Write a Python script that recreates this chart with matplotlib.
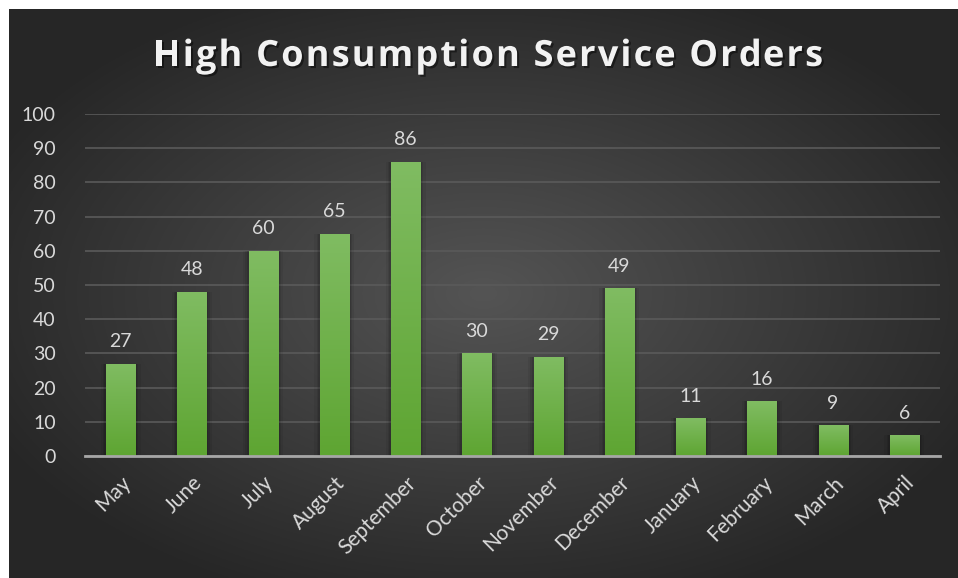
import numpy as np
import matplotlib
matplotlib.use("Agg")
import matplotlib.pyplot as plt
import matplotlib.patheffects as pe
from matplotlib.font_manager import FontProperties

months = ["May", "June", "July", "August", "September", "October",
          "November", "December", "January", "February", "March", "April"]
orders = [27, 48, 60, 65, 86, 30, 29, 49, 11, 16, 9, 6]
yticks = [0, 10, 20, 30, 40, 50, 60, 70, 80, 90, 100]
title = "High Consumption Service Orders"

plt.rcParams['font.family'] = ['Lato', 'DejaVu Sans']

W, H = 958, 578
fig = plt.figure(figsize=(W / 100, H / 100), dpi=100)
fig.patch.set_facecolor("white")

# background with radial gradient
bg = fig.add_axes([9 / W, 0, 1 - 9 / W, 1 - 9 / H])
bg.set_axis_off()
yy, xx = np.mgrid[0:1:300j, 0:1:500j]
r = np.sqrt(((xx - 0.5) / 0.75) ** 2 + ((yy - 0.5) / 0.75) ** 2)
val = np.clip(0.33 - 0.22 * r / 0.94, 0.15, 0.33)
bg.imshow(np.dstack([val, val, val]), extent=[0, 1, 0, 1], aspect="auto", origin="lower")
bg.set_xlim(0, 1)
bg.set_ylim(0, 1)

ax = fig.add_axes([85 / W, 1 - 456 / H, (940 - 85) / W, (456 - 114) / H])
ax.patch.set_alpha(0)
x = np.arange(len(months))
# soft shadows
for k, a in [(0.56, 0.06), (0.50, 0.08), (0.46, 0.10)]:
    ax.bar(x, orders, width=k, color="black", alpha=a, zorder=2, linewidth=0)
bars = ax.bar(x, orders, width=0.41, color="#6aae45", zorder=3, linewidth=0)
# gradient fill on bars
grad = np.linspace(0, 1, 100).reshape(-1, 1)
top = np.array([0x80, 0xbc, 0x62]) / 255
bot = np.array([0x5e, 0xa5, 0x32]) / 255
img = bot + (top - bot) * grad[..., None]
for b in bars:
    im = ax.imshow(img, extent=[b.get_x(), b.get_x() + b.get_width(), 0, b.get_height()],
                   origin="lower", aspect="auto", zorder=4)
    im.set_clip_path(b)
    ax.text(b.get_x() + b.get_width() / 2, b.get_height() + 4, f"{int(b.get_height())}",
            ha="center", va="bottom", color="#d9d9d9", fontsize=14)

ax.set_xlim(-0.5, len(months) - 0.5)
ax.set_ylim(0, 100)
ax.set_yticks(yticks)
ax.set_yticklabels([str(t) for t in yticks])
ax.set_xticks(x)
ax.set_xticklabels(months, rotation=45, ha="right", rotation_mode="anchor")
ax.tick_params(axis="both", length=0, colors="#d9d9d9", labelsize=14)
ax.tick_params(axis="x", labelsize=15, pad=12)
ax.tick_params(axis="y", pad=21)
ax.grid(axis="y", color="#5a5a5a", linewidth=1.2, zorder=0)
ax.set_axisbelow(True)
for s in ["top", "right", "left"]:
    ax.spines[s].set_visible(False)
ax.spines["bottom"].set_color("#a6a6a6")
ax.spines["bottom"].set_linewidth(2)
ax.spines["bottom"].set_zorder(5)

# letter-spaced title
renderer = fig.canvas.get_renderer()
fp = FontProperties(family="Open Sans", weight="bold", size=26)
def tw(s):
    if not s:
        return 0.0
    w1, _, _ = renderer.get_text_width_height_descent(s + "H", fp, ismath=False)
    w2, _, _ = renderer.get_text_width_height_descent("H", fp, ismath=False)
    return w1 - w2
x0, x1 = 153, 823
natural = tw(title)
spacing = (x1 - x0 - natural) / (len(title) - 1)
for i, ch in enumerate(title):
    if ch == " ":
        continue
    px = x0 + tw(title[:i]) + i * spacing
    fig.text(px / W, 1 - 57 / H, ch, ha="left", va="center", fontproperties=fp,
             color="#f2f2f2",
             path_effects=[pe.withSimplePatchShadow(offset=(1.5, -1.5), shadow_rgbFace="black", alpha=0.45)])

fig.savefig("out.png", dpi=100, facecolor=fig.get_facecolor())
